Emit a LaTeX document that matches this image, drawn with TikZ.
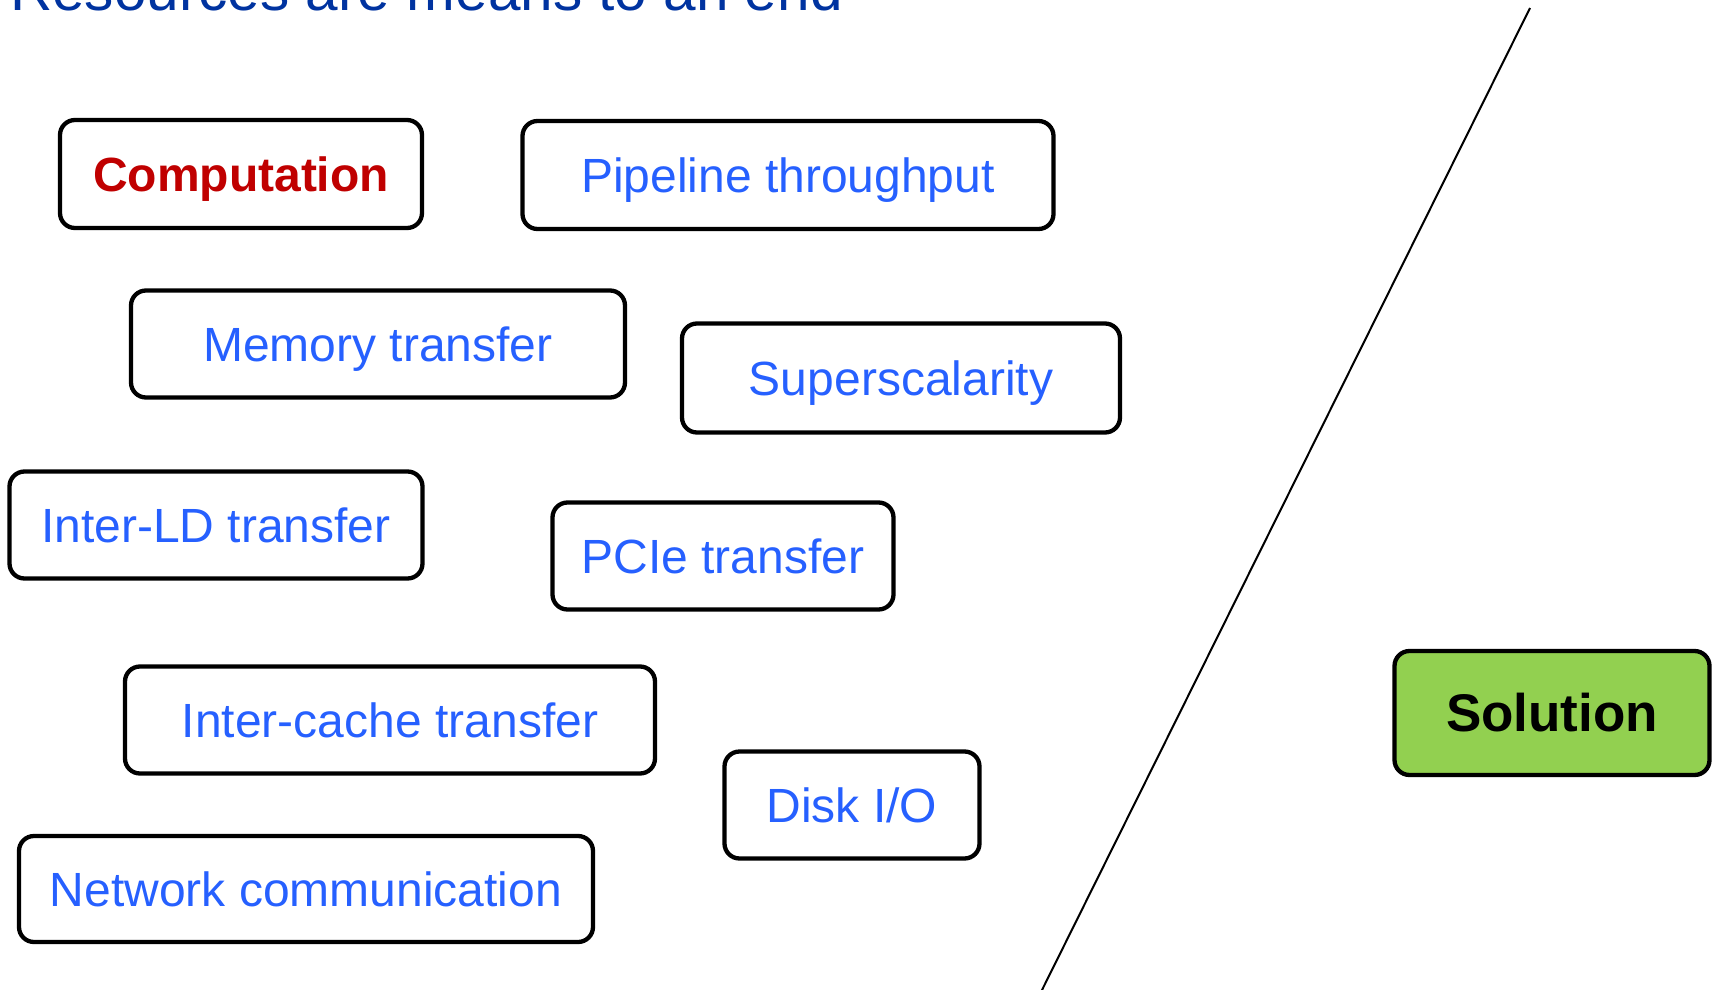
\documentclass[tikz,border=0pt]{standalone}
\usepackage{fontspec}
\setmainfont{Liberation Sans}
\definecolor{titleblue}{RGB}{0,51,160}
\definecolor{txtblue}{RGB}{38,96,255}
\definecolor{compred}{RGB}{192,0,0}
\definecolor{solgreen}{RGB}{146,208,80}
\tikzset{
  res/.style={draw=black, line width=4.3pt, rounded corners=15pt, fill=white,
    inner sep=0pt, text height=34pt, text depth=0pt, align=center,
    font=\fontsize{48}{48}\selectfont, text=txtblue},
}
\begin{document}
\begin{tikzpicture}[x=1pt,y=-1pt]
\useasboundingbox (0,0) rectangle (1713,990);
\node[anchor=base west, inner sep=0pt, text=titleblue, font=\fontsize{58.5}{58.5}\selectfont] (title) at (10,11) {Resources are means to an end};
\node[res, minimum width=362pt, minimum height=108pt, text=compred, font=\fontsize{48}{48}\selectfont\bfseries] (comp) at (241,174) {Computation};
\node[res, minimum width=531pt, minimum height=108pt] (pipe) at (788,175) {Pipeline throughput};
\node[res, minimum width=494pt, minimum height=107pt] (mem) at (378,344) {Memory transfer};
\node[res, minimum width=438pt, minimum height=109pt] (sup) at (901,378) {Superscalarity};
\node[res, minimum width=413pt, minimum height=107pt] (ild) at (216,525) {Inter-LD transfer};
\node[res, minimum width=341pt, minimum height=107pt] (pcie) at (723,556) {PCIe transfer};
\node[res, minimum width=530pt, minimum height=107pt] (icache) at (390,720) {Inter-cache transfer};
\node[res, minimum width=255pt, minimum height=107pt] (disk) at (852,805) {Disk I/O};
\node[res, minimum width=574pt, minimum height=106pt] (net) at (306,889) {Network communication};
\node[res, minimum width=315pt, minimum height=124pt, fill=solgreen, text=black, text height=37.5pt, font=\fontsize{53}{53}\selectfont\bfseries] (sol) at (1552,713) {Solution};
\coordinate (ltop) at (1530,8);
\coordinate (lbot) at (1041,992);
\draw[line width=2pt] (ltop) -- (lbot);
\end{tikzpicture}
\end{document}
